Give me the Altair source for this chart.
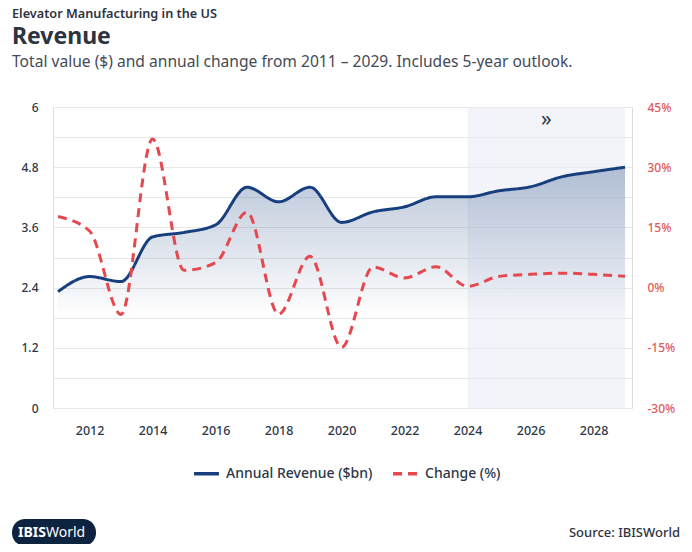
import altair as alt
import pandas as pd

# ---- data ----
years = list(range(2011, 2030))
revenue = [2.32, 2.62, 2.52, 3.41, 3.50, 3.65, 4.40, 4.11, 4.40, 3.70,
           3.91, 4.01, 4.21, 4.21, 4.33, 4.41, 4.61, 4.71, 4.80]
change = [17.7, 14.1, -6.7, 37.0, 4.3, 6.2, 18.8, -6.6, 7.8, -14.9,
          5.1, 2.4, 5.2, 0.3, 2.8, 3.3, 3.6, 3.3, 2.8]
x_ticks = [2012, 2014, 2016, 2018, 2020, 2022, 2024, 2026, 2028]
left_grid = [0, 0.6, 1.2, 1.8, 2.4, 3.0, 3.6, 4.2, 4.8, 5.4, 6.0]
right_ticks = [-30, -15, 0, 15, 30, 45]
forecast_start, forecast_end = [2024], [2029]
series_names = ["Annual Revenue ($bn)", "Change (%)"]

supertitle = "Elevator Manufacturing in the US"
title = "Revenue"
subtitle = "Total value ($) and annual change from 2011 \u2013 2029. Includes 5-year outlook."
source = "Source: IBISWorld"

W, H = 579, 301
NAVY = "#173f7d"
RED = "#e5484f"
TXT = "#2d3748"
FONT = "Noto Sans"

rev_df = pd.DataFrame({"year": years, "value": revenue, "series": series_names[0]})
chg_df = pd.DataFrame({"year": years, "value": change, "series": series_names[1]})
fc_df = pd.DataFrame({"start": forecast_start, "end": forecast_end})

xscale = alt.Scale(domain=[2010.84, 2029.22], nice=False, zero=False)
xaxis = alt.Axis(values=x_ticks, format="d", grid=False, domain=False, ticks=False,
                 labelPadding=16, labelColor=TXT, labelFontSize=12.5, labelFontWeight=500,
                 labelFont=FONT, title=None)
color_scale = alt.Scale(domain=series_names, range=[NAVY, RED])
dash_scale = alt.Scale(domain=series_names, range=[[1, 0], [9, 6]])

forecast = alt.Chart(fc_df).mark_rect(fill="#e9edf5", opacity=0.6).encode(
    x=alt.X("start:Q", scale=xscale, axis=xaxis),
    x2="end:Q",
    y=alt.value(0), y2=alt.value(H),
)

arrows = alt.Chart(fc_df).transform_calculate(mid="(datum.start + datum.end) / 2").mark_text(
    text="\u00bb", fontSize=21, color="#2d3748", font=FONT, baseline="middle"
).encode(x=alt.X("mid:Q", scale=xscale), y=alt.value(13))

yleft = alt.Scale(domain=[0, 6], nice=False, zero=True)
area = alt.Chart(rev_df).mark_area(
    interpolate="monotone",
    fill=alt.Gradient(
        gradient="linear", x1=0, y1=0, x2=0, y2=1,
        stops=[alt.GradientStop(color="rgba(23,63,125,0.30)", offset=0),
               alt.GradientStop(color="rgba(23,63,125,0.0)", offset=0.62)],
    ),
).encode(
    x=alt.X("year:Q", scale=xscale),
    y=alt.Y("value:Q", scale=yleft, axis=None),
)

rev_line = alt.Chart(rev_df).mark_line(interpolate="monotone", strokeWidth=3).encode(
    x=alt.X("year:Q", scale=xscale),
    y=alt.Y("value:Q", scale=yleft, axis=alt.Axis(
        orient="left", values=left_grid,
        labelExpr="abs(datum.value/1.2 - round(datum.value/1.2)) < 0.01 ? format(datum.value, '~g') : ''",
        grid=True, gridColor="#e7e7e7", domain=False, ticks=False, labelPadding=15,
        labelColor=TXT, labelFontSize=12, labelFont=FONT, labelFontWeight=500, title=None)),
    color=alt.Color("series:N", scale=color_scale, legend=alt.Legend(
        title=None, orient="none", legendX=139, legendY=352, direction="horizontal",
        symbolType="stroke", symbolSize=620, symbolStrokeWidth=3.5,
        labelFontSize=14, labelFont=FONT, labelFontWeight=500, labelColor=TXT,
        columnPadding=13, labelOffset=5)),
    strokeDash=alt.StrokeDash("series:N", scale=dash_scale, legend=None),
)

chg_line = alt.Chart(chg_df).mark_line(interpolate="monotone", strokeWidth=3).encode(
    x=alt.X("year:Q", scale=xscale),
    y=alt.Y("value:Q", scale=alt.Scale(domain=[-30, 45], nice=False, zero=False),
            axis=alt.Axis(orient="right", values=right_ticks, labelExpr="datum.value + '%'",
                          grid=False, domain=False, ticks=False, labelPadding=15,
                          labelColor="#e05a5a", labelFontSize=12, labelFont=FONT,
                          labelFontWeight=500, title=None)),
    color=alt.Color("series:N", scale=color_scale),
    strokeDash=alt.StrokeDash("series:N", scale=dash_scale, legend=None),
)


def txt(s, x, y, size, weight, color, align="left", baseline="middle"):
    return alt.Chart(pd.DataFrame({"t": [s]})).mark_text(
        align=align, baseline=baseline, fontSize=size, fontWeight=weight,
        color=color, font=FONT
    ).encode(text="t:N", x=alt.value(x), y=alt.value(y))


logo_box = alt.Chart(pd.DataFrame({"t": ["logo"]})).mark_rect(
    fill="#0e2340", cornerRadius=13
).encode(x=alt.value(-41), x2=alt.value(43), y=alt.value(412), y2=alt.value(439))

texts = [
    txt(supertitle, -41, -89.5, 12.7, 600, "#2d3340", baseline="alphabetic"),
    txt(title, -41, -70, 23, 700, "#2d3340"),
    txt(subtitle, -41, -45, 15.6, 400, "#444a55"),
    txt("IBIS", -7, 425.5, 14, 700, "white", align="right"),
    txt("World", -7, 425.5, 14, 400, "white"),
    txt(source, 627, 426, 13, 500, "#2d3340", align="right"),
]

chart = alt.layer(
    forecast, area, rev_line, chg_line, arrows, logo_box, *texts
).resolve_scale(y="independent").properties(
    width=W, height=H,
    autosize=alt.AutoSizeParams(type="none"),
    padding={"left": 45, "top": 99, "right": 52, "bottom": 136},
).configure_view(stroke=None).configure(background="white")

chart.save("out.html", embed_options={"renderer": "svg", "actions": False})
